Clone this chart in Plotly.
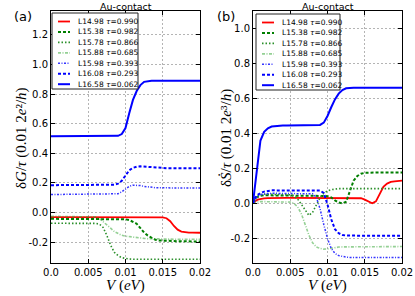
import plotly.graph_objects as go

# ---------------- data ----------------
labels = ["L14.98 <i>τ</i>=0.990", "L15.38 <i>τ</i>=0.982", "L15.78 <i>τ</i>=0.866",
          "L15.88 <i>τ</i>=0.685", "L15.98 <i>τ</i>=0.393", "L16.08 <i>τ</i>=0.293",
          "L16.58 <i>τ</i>=0.062"]

V_a = [0.0, 0.0005, 0.001, 0.0015, 0.002, 0.0025, 0.003, 0.0035, 0.004, 0.0045,
       0.005, 0.0055, 0.006, 0.0065, 0.007, 0.0075, 0.008, 0.0085, 0.009, 0.0095,
       0.01, 0.0105, 0.011, 0.0115, 0.012, 0.0125, 0.013, 0.0135, 0.014, 0.0145,
       0.015, 0.0155, 0.016, 0.0165, 0.017, 0.0175, 0.018, 0.0185, 0.019, 0.0195, 0.02]

dG_L1498 = [-0.031, -0.031, -0.031, -0.031, -0.031, -0.031, -0.031, -0.031, -0.031, -0.031,
            -0.031, -0.031, -0.031, -0.031, -0.031, -0.031, -0.031, -0.031, -0.031, -0.031,
            -0.031, -0.031, -0.031, -0.031, -0.031, -0.031, -0.031, -0.031, -0.031, -0.031,
            -0.032, -0.038, -0.058, -0.090, -0.115, -0.128, -0.133, -0.135, -0.135, -0.136, -0.136]
dG_L1538 = [-0.042, -0.042, -0.042, -0.042, -0.042, -0.042, -0.042, -0.042, -0.042, -0.042,
            -0.042, -0.042, -0.042, -0.042, -0.042, -0.042, -0.042, -0.042, -0.042, -0.043,
            -0.045, -0.050, -0.060, -0.075, -0.105, -0.135, -0.155, -0.172, -0.183, -0.188,
            -0.190, -0.191, -0.192, -0.192, -0.193, -0.193, -0.194, -0.194, -0.195, -0.195, -0.195]
dG_L1578 = [-0.072, -0.072, -0.072, -0.072, -0.072, -0.072, -0.072, -0.072, -0.072, -0.072,
            -0.072, -0.072, -0.073, -0.078, -0.100, -0.155, -0.220, -0.268, -0.290, -0.304,
            -0.310, -0.313, -0.315, -0.315, -0.315, -0.315, -0.315, -0.315, -0.315, -0.315,
            -0.315, -0.315, -0.315, -0.315, -0.315, -0.315, -0.315, -0.315, -0.315, -0.315, -0.315]
dG_L1588 = [-0.025, -0.025, -0.025, -0.025, -0.025, -0.025, -0.025, -0.025, -0.025, -0.025,
            -0.025, -0.026, -0.029, -0.040, -0.060, -0.085, -0.105, -0.128, -0.143, -0.153,
            -0.159, -0.163, -0.167, -0.170, -0.172, -0.174, -0.176, -0.177, -0.178, -0.179,
            -0.180, -0.180, -0.180, -0.180, -0.180, -0.180, -0.180, -0.180, -0.180, -0.180, -0.180]
dG_L1598 = [0.122, 0.122, 0.122, 0.122, 0.122, 0.122, 0.122, 0.122, 0.122, 0.122,
            0.122, 0.122, 0.122, 0.122, 0.122, 0.122, 0.122, 0.123, 0.127, 0.140,
            0.160, 0.177, 0.185, 0.186, 0.182, 0.177, 0.173, 0.170, 0.168, 0.167,
            0.167, 0.167, 0.166, 0.166, 0.166, 0.166, 0.166, 0.166, 0.166, 0.166, 0.166]
dG_L1608 = [0.185, 0.185, 0.185, 0.185, 0.185, 0.185, 0.185, 0.185, 0.185, 0.185,
            0.185, 0.185, 0.185, 0.185, 0.185, 0.185, 0.186, 0.188, 0.195, 0.215,
            0.250, 0.285, 0.302, 0.310, 0.312, 0.310, 0.306, 0.303, 0.302, 0.301,
            0.301, 0.300, 0.300, 0.300, 0.300, 0.300, 0.300, 0.300, 0.300, 0.300, 0.300]
dG_L1658 = [0.515, 0.515, 0.515, 0.515, 0.515, 0.515, 0.515, 0.515, 0.515, 0.515,
            0.515, 0.515, 0.515, 0.515, 0.515, 0.515, 0.515, 0.516, 0.518, 0.530,
            0.570, 0.670, 0.760, 0.820, 0.860, 0.882, 0.888, 0.890, 0.890, 0.890,
            0.890, 0.890, 0.890, 0.890, 0.890, 0.890, 0.890, 0.890, 0.890, 0.890, 0.890]

V_b = [0.0, 0.00025, 0.0005, 0.00075, 0.001, 0.0015, 0.002, 0.0025, 0.003, 0.0035,
       0.004, 0.0045, 0.005, 0.0055, 0.006, 0.0065, 0.007, 0.0075, 0.008, 0.0085,
       0.009, 0.0095, 0.01, 0.0105, 0.011, 0.0115, 0.012, 0.0125, 0.013, 0.0135,
       0.014, 0.0145, 0.015, 0.0155, 0.016, 0.0165, 0.017, 0.0175, 0.018, 0.0185,
       0.019, 0.0195, 0.02]

dS_L1498 = [0.005, 0.013, 0.019, 0.023, 0.026, 0.029, 0.031, 0.032, 0.032, 0.032,
            0.032, 0.032, 0.032, 0.032, 0.032, 0.032, 0.032, 0.032, 0.032, 0.032,
            0.032, 0.032, 0.032, 0.032, 0.032, 0.032, 0.032, 0.032, 0.032, 0.032,
            0.032, 0.030, 0.022, 0.013, 0.001, 0.012, 0.055, 0.095, 0.114, 0.123,
            0.127, 0.130, 0.131]
dS_L1538 = [0.010, 0.025, 0.035, 0.040, 0.044, 0.047, 0.047, 0.046, 0.045, 0.044,
            0.043, 0.043, 0.043, 0.043, 0.043, 0.043, 0.043, 0.043, 0.043, 0.043,
            0.043, 0.043, 0.042, 0.035, 0.018, 0.006, 0.001, 0.010, 0.070, 0.130,
            0.157, 0.170, 0.175, 0.177, 0.177, 0.177, 0.177, 0.177, 0.177, 0.177,
            0.177, 0.177, 0.177]
dS_L1578 = [0.010, 0.025, 0.037, 0.045, 0.050, 0.053, 0.053, 0.053, 0.053, 0.053,
            0.052, 0.052, 0.050, 0.042, 0.025, -0.005, -0.040, -0.068, -0.050, -0.010,
            0.033, 0.058, 0.072, 0.079, 0.083, 0.085, 0.085, 0.085, 0.085, 0.085,
            0.085, 0.085, 0.085, 0.085, 0.085, 0.085, 0.085, 0.085, 0.085, 0.085,
            0.085, 0.085, 0.085]
dS_L1588 = [0.004, 0.007, 0.009, 0.010, 0.011, 0.011, 0.011, 0.011, 0.011, 0.011,
            0.011, 0.011, 0.008, 0.000, -0.020, -0.060, -0.125, -0.180, -0.225, -0.248,
            -0.257, -0.261, -0.260, -0.255, -0.251, -0.249, -0.248, -0.248, -0.248, -0.247,
            -0.247, -0.247, -0.247, -0.247, -0.247, -0.246, -0.246, -0.246, -0.246, -0.246,
            -0.246, -0.246, -0.246]
dS_L1598 = [0.000, 0.020, 0.035, 0.045, 0.050, 0.055, 0.058, 0.058, 0.058, 0.058,
            0.058, 0.058, 0.058, 0.058, 0.058, 0.058, 0.058, 0.058, 0.055, 0.035,
            -0.030, -0.120, -0.200, -0.257, -0.285, -0.298, -0.304, -0.306, -0.308, -0.308,
            -0.308, -0.308, -0.308, -0.308, -0.308, -0.308, -0.308, -0.308, -0.308, -0.308,
            -0.308, -0.308, -0.308]
dS_L1608 = [0.000, 0.030, 0.045, 0.055, 0.060, 0.068, 0.072, 0.075, 0.075, 0.075,
            0.075, 0.075, 0.075, 0.075, 0.075, 0.075, 0.075, 0.075, 0.075, 0.075,
            0.074, 0.060, -0.005, -0.090, -0.147, -0.170, -0.180, -0.183, -0.184, -0.184,
            -0.184, -0.184, -0.184, -0.184, -0.184, -0.184, -0.184, -0.184, -0.184, -0.184,
            -0.184, -0.184, -0.184]
dS_L1658 = [0.005, 0.095, 0.190, 0.280, 0.360, 0.410, 0.430, 0.440, 0.443, 0.445,
            0.445, 0.445, 0.445, 0.445, 0.445, 0.445, 0.445, 0.445, 0.445, 0.446,
            0.449, 0.462, 0.500, 0.550, 0.595, 0.628, 0.648, 0.658, 0.661, 0.662,
            0.662, 0.662, 0.662, 0.662, 0.662, 0.662, 0.662, 0.662, 0.662, 0.662,
            0.662, 0.662, 0.662]

series_a = [dG_L1498, dG_L1538, dG_L1578, dG_L1588, dG_L1598, dG_L1608, dG_L1658]
series_b = [dS_L1498, dS_L1538, dS_L1578, dS_L1588, dS_L1598, dS_L1608, dS_L1658]

x_tickvals = [0.0, 0.005, 0.01, 0.015, 0.02]
x_ticktext = ["0.0", "0.005", "0.01", "0.015", "0.02"]
ya_tickvals = [-0.2, 0.0, 0.2, 0.4, 0.6, 0.8, 1.0, 1.2]
ya_ticktext = ["-0.2", "0.0", "0.2", "0.4", "0.6", "0.8", "1.0", "1.2"]
yb_tickvals = [-0.2, 0.0, 0.2, 0.4, 0.6, 0.8, 1.0]
yb_ticktext = ["-0.2", "0.0", "0.2", "0.4", "0.6", "0.8", "1.0"]

# ---------------- styles ----------------
colors = ["#ff0000", "#007f00", "#2a8f2a", "rgba(60,170,60,0.55)", "#3535ff", "#0000ff", "#0000ff"]
dashes = ["solid", "3px,2px", "1.5px,2px", "3px,1.5px,1px,1.5px", "2px,1.5px,1px,1.5px", "3px,2px", "solid"]
widths = [1.8, 2.0, 1.6, 1.6, 1.5, 2.0, 2.0]

W, H = 415, 296
def px(x):
    return x / W
def py(y):
    return 1 - y / H

fig = go.Figure()
for i in range(7):
    fig.add_trace(go.Scatter(x=V_a, y=series_a[i], mode="lines", xaxis="x", yaxis="y",
                             line=dict(color=colors[i], dash=dashes[i], width=widths[i]),
                             showlegend=False))
for i in range(7):
    fig.add_trace(go.Scatter(x=V_b, y=series_b[i], mode="lines", xaxis="x2", yaxis="y2",
                             line=dict(color=colors[i], dash=dashes[i], width=widths[i]),
                             showlegend=False))

tickfont = dict(family="DejaVu Sans", size=10, color="black")
def xax(domain, anchor):
    return dict(domain=domain, anchor=anchor, range=[0, 0.02], tickvals=x_tickvals,
                ticktext=x_ticktext, ticks="inside", ticklen=4, tickcolor="black",
                showline=True, linecolor="black", linewidth=1, mirror="ticks",
                showgrid=True, gridcolor="#b4b4b4", griddash="2px,2px", gridwidth=0.8,
                zeroline=False, tickfont=tickfont, automargin=False)
def yax(domain, anchor, rng, tv, tt):
    return dict(domain=domain, anchor=anchor, range=rng, tickvals=tv, ticktext=tt,
                ticks="inside", ticklen=4, tickcolor="black",
                showline=True, linecolor="black", linewidth=1, mirror="ticks",
                showgrid=True, gridcolor="#b4b4b4", griddash="2px,2px", gridwidth=0.8,
                zeroline=False, tickfont=tickfont, automargin=False)

ydom = [py(263), py(11)]
fig.update_layout(
    template="none",
    width=W, height=H, autosize=False,
    margin=dict(l=0, r=0, t=0, b=0, pad=0),
    paper_bgcolor="white", plot_bgcolor="white",
    xaxis=xax([px(51), px(200)], "y"),
    yaxis=yax(ydom, "x", [-0.34, 1.36], ya_tickvals, ya_ticktext),
    xaxis2=xax([px(253), px(402)], "y2"),
    yaxis2=yax(ydom, "x2", [-0.34, 1.10], yb_tickvals, yb_ticktext),
)

ann = []
shapes = []
serif = "Liberation Serif"

def text(t, x, y, size, family="DejaVu Sans", angle=0, xanchor="center"):
    ann.append(dict(text=t, x=px(x), y=py(y), xref="paper", yref="paper",
                    xanchor=xanchor, yanchor="middle", textangle=angle, showarrow=False,
                    font=dict(family=family, size=size, color="black")))

# axis labels
text("δ<i>G</i>/<i>τ</i> (0.01 2<i>e</i>²/<i>h</i>)", 21, 138, 15, serif, -90)
text("δ<i>Ṡ</i>/<i>τ</i> (0.01 2<i>e</i>³/<i>h</i>)", 226, 138, 15, serif, -90)
for cx in (125.5, 327.5):
    text("<i>V</i> (<i>eV</i>)", cx, 285, 15, serif)
    text("Au-contact", cx, 6, 9.5)
text("(a)", 23, 16, 13)
text("(b)", 226, 16, 13)

# manual legends
for (bx0, bx1, by0, by1) in ((52, 138, 13, 89), (256, 340, 14, 90)):
    shapes.append(dict(type="rect", xref="paper", yref="paper",
                       x0=px(bx0), x1=px(bx1), y0=py(by1), y1=py(by0),
                       line=dict(color="#222222", width=1), fillcolor="white", layer="above"))
    for i in range(7):
        yy = by0 + 8.5 + i * 10.45
        shapes.append(dict(type="line", xref="paper", yref="paper",
                           x0=px(bx0 + 6), x1=px(bx0 + 18), y0=py(yy), y1=py(yy),
                           line=dict(color=colors[i], dash=dashes[i], width=widths[i]),
                           layer="above"))
        text(labels[i], bx0 + 24, yy, 7.5, xanchor="left")

fig.update_layout(annotations=ann, shapes=shapes)
fig.write_html("out.html", config={"displayModeBar": False},
               post_script="document.body.style.margin='0';document.body.style.overflow='hidden';")
